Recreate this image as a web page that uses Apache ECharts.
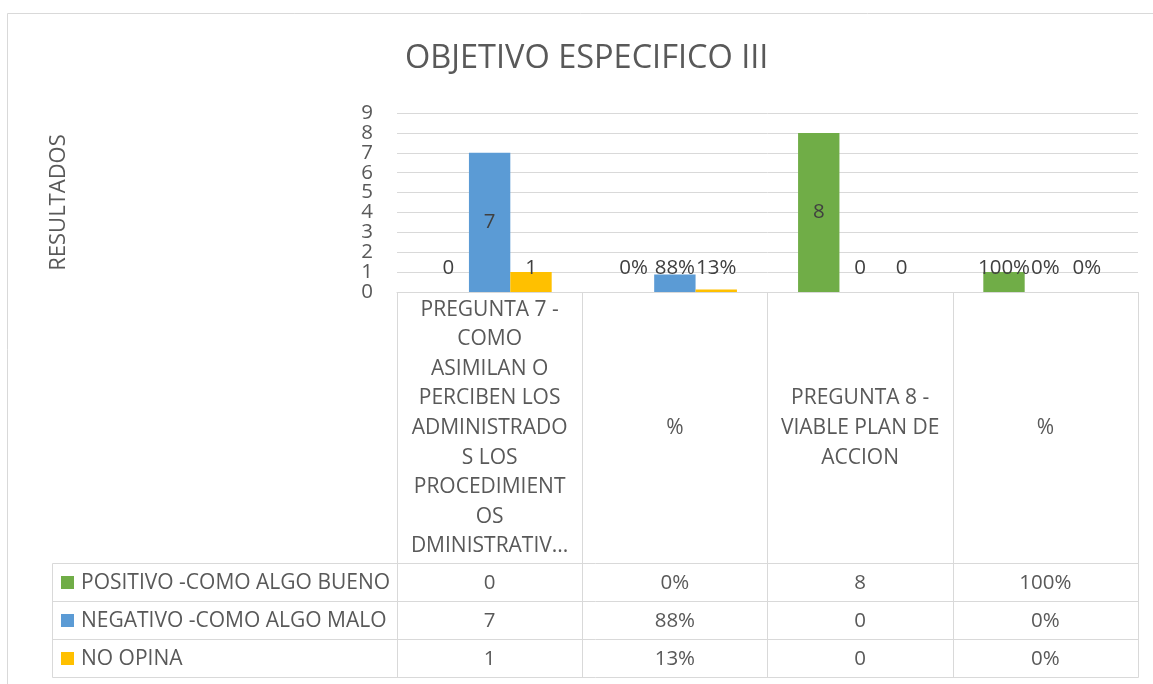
<!DOCTYPE html>
<html><head><meta charset="utf-8">
<script src="https://cdn.jsdelivr.net/npm/echarts@6/dist/echarts.min.js"></script>
<style>html,body{margin:0;padding:0;background:#fff}#c{width:1153px;height:684px}</style>
</head><body><div id="c"></div>
<script>
const categories = [
  'PREGUNTA 7 -\nCOMO\nASIMILAN O\nPERCIBEN LOS\nADMINISTRADO\nS LOS\nPROCEDIMIENT\nOS\nDMINISTRATIV...',
  '%',
  'PREGUNTA 8 -\nVIABLE PLAN DE\nACCION',
  '%'
];
const percentColumn = [false, true, false, true];
const seriesNames = ['POSITIVO -COMO ALGO BUENO', 'NEGATIVO -COMO ALGO MALO', 'NO OPINA'];
const positivo = [0, 0, 8, 1];
const negativo = [7, 0.88, 0, 0];
const noOpina = [1, 0.13, 0, 0];
const yTickLabels = [0, 1, 2, 3, 4, 5, 6, 7, 8, 9];
const yMin = 0, yMax = 9, yStep = 1;
const colors = ['#70AD47', '#5B9BD5', '#FFC000'];
const titleText = 'OBJETIVO ESPECIFICO III';
const yName = 'RESULTADOS';

const FONT = 'Open Sans';
const TXT = '#595959';
const LINE = '#D9D9D9';
const allSeries = [positivo, negativo, noOpina];

function fmt(v, i) {
  return percentColumn[i] ? Math.round(v * 100) + '%' : String(v);
}

const chart = echarts.init(document.getElementById('c'), null, {renderer: 'canvas'});

const series = allSeries.map((vals, s) => ({
  name: seriesNames[s],
  type: 'bar',
  barGap: '0%',
  barCategoryGap: '33%',
  itemStyle: {color: colors[s]},
  data: vals.map((v, i) => ({
    value: v,
    label: v < 2.4
      ? {position: 'insideBottom', distance: 12}
      : {position: 'inside'}
  })),
  label: {
    show: true,
    fontFamily: FONT,
    fontSize: 20.5,
    lineHeight: 24,
    color: '#404040',
    formatter: p => fmt(p.value, p.dataIndex)
  },
  emphasis: {disabled: true}
}));

chart.setOption({
  animation: false,
  backgroundColor: '#fff',
  title: {
    text: titleText,
    left: 405,
    top: 38,
    padding: 0,
    textStyle: {fontFamily: FONT, fontSize: 32.5, fontWeight: 'normal', color: TXT, lineHeight: 42}
  },
  grid: {left: 397, right: 15, top: 113, bottom: 392, containLabel: false, outerBoundsMode: 'none'},
  xAxis: {
    type: 'category',
    data: categories,
    axisLine: {show: true, lineStyle: {color: LINE, width: 1}},
    axisTick: {show: true, length: 385.5, lineStyle: {color: LINE, width: 1}},
    axisLabel: {
      interval: 0,
      margin: 136,
      verticalAlign: 'middle',
      align: 'center',
      lineHeight: 29.6,
      fontFamily: FONT,
      fontSize: 21,
      color: TXT
    },
    splitLine: {show: false}
  },
  yAxis: {
    type: 'value',
    min: yMin,
    max: yMax,
    interval: yStep,
    axisLine: {show: false},
    axisTick: {show: false},
    axisLabel: {show: false},
    splitLine: {lineStyle: {color: LINE, width: 1}},
    name: yName,
    nameLocation: 'middle',
    nameGap: 327,
    nameMoveOverlap: false,
    nameTextStyle: {fontFamily: FONT, fontSize: 22, color: TXT}
  },
  series: series
});

const graphic = [];
// Y tick labels placed through the value axis scale (dense labels that ECharts would thin out)
const axisX = chart.convertToPixel({xAxisIndex: 0}, 0) - (chart.convertToPixel({xAxisIndex: 0}, 1) - chart.convertToPixel({xAxisIndex: 0}, 0)) / 2;
yTickLabels.forEach(t => {
  graphic.push({type: 'text', silent: true, x: axisX - 24, y: chart.convertToPixel({yAxisIndex: 0}, t),
    style: {text: String(t), font: '20.5px "Open Sans"', fill: TXT, align: 'right', verticalAlign: 'middle'}});
});

// Data table under the axis, built from the same arrays
const rowTop = 564, rowH = 38, tableLeft = 52.5;
const xRight = chart.convertToPixel({xAxisIndex: 0}, categories.length - 1) + (chart.convertToPixel({xAxisIndex: 0}, 1) - chart.convertToPixel({xAxisIndex: 0}, 0)) / 2;
graphic.push({
  type: 'rect', silent: true, z: -10,
  shape: {x: 7.5, y: 13.5, width: 1300, height: 1000},
  style: {fill: 'none', stroke: LINE, lineWidth: 1}
});
for (let r = 0; r <= allSeries.length; r++) {
  const y = rowTop + r * rowH - 0.5;
  graphic.push({type: 'line', silent: true, shape: {x1: tableLeft, y1: y, x2: Math.round(xRight) + 0.5, y2: y}, style: {stroke: LINE, lineWidth: 1}});
}
graphic.push({type: 'line', silent: true, shape: {x1: tableLeft, y1: rowTop - 0.5, x2: tableLeft, y2: rowTop + allSeries.length * rowH - 0.5}, style: {stroke: LINE, lineWidth: 1}});
allSeries.forEach((vals, s) => {
  const cy = rowTop + s * rowH + rowH / 2;
  graphic.push({type: 'rect', silent: true, shape: {x: 61, y: cy - 7, width: 13, height: 13}, style: {fill: colors[s]}});
  graphic.push({type: 'text', silent: true, x: 81, y: cy, style: {text: seriesNames[s], font: '21px "Open Sans"', fill: TXT, align: 'left', verticalAlign: 'middle'}});
  vals.forEach((v, i) => {
    const cx = chart.convertToPixel({xAxisIndex: 0}, i);
    graphic.push({type: 'text', silent: true, x: cx, y: cy, style: {text: fmt(v, i), font: '20.5px "Open Sans"', fill: TXT, align: 'center', verticalAlign: 'middle'}});
  });
});
chart.setOption({graphic: graphic});
</script>
</body></html>
